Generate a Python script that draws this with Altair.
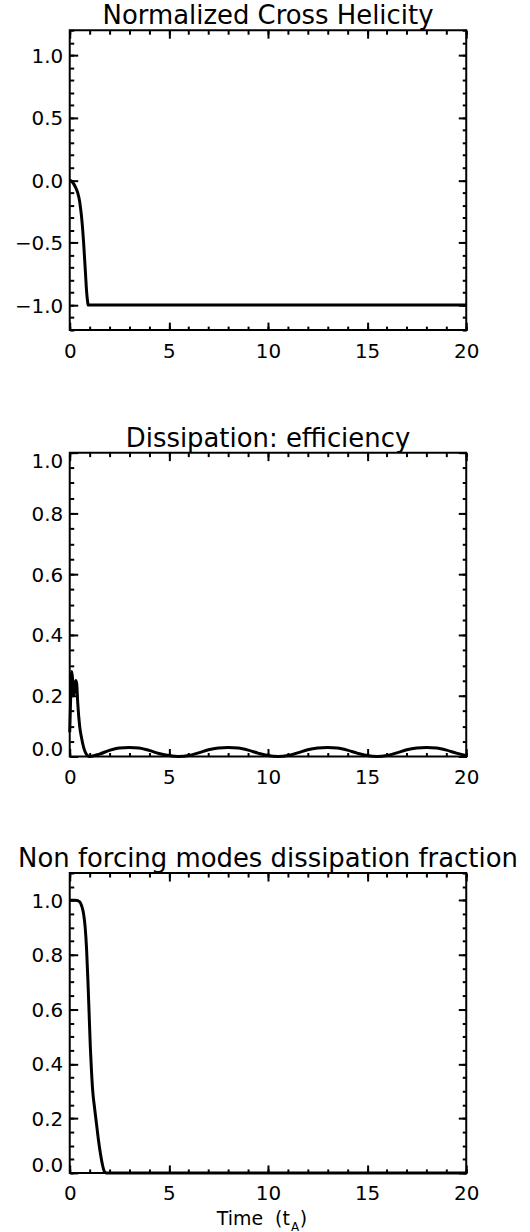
import altair as alt
import pandas as pd

FONT = "DejaVu Sans"

# ---- Panel 1: Normalized Cross Helicity ----
t1 = [0.0, 0.1, 0.2, 0.3, 0.4, 0.5, 0.55, 0.6, 0.65, 0.7, 0.75, 0.8, 0.85, 0.9, 0.93, 1.0, 20.0]
h1 = [0.0, -0.01, -0.03, -0.06, -0.1, -0.17, -0.23, -0.3, -0.39, -0.5, -0.63, -0.76, -0.89, -0.97, -1.0, -1.0, -1.0]

# ---- Panel 2: Dissipation: efficiency ----
t2 = [0.0, 0.05, 0.1, 0.15, 0.2, 0.25, 0.3, 0.35, 0.4, 0.5, 0.6, 0.7, 0.8, 0.9, 1.0,
      1.5, 2.0, 2.5, 3.0, 3.5, 4.0, 4.5, 5.0, 5.5,
      6.0, 6.5, 7.0, 7.5, 8.0, 8.5, 9.0, 9.5, 10.0, 10.5,
      11.0, 11.5, 12.0, 12.5, 13.0, 13.5, 14.0, 14.5, 15.0, 15.5,
      16.0, 16.5, 17.0, 17.5, 18.0, 18.5, 19.0, 19.5, 20.0]
e2 = [0.08, 0.2, 0.28, 0.25, 0.2, 0.22, 0.25, 0.24, 0.18, 0.1, 0.06, 0.03, 0.012, 0.003, 0.0,
      0.008, 0.02, 0.028, 0.03, 0.028, 0.02, 0.01, 0.003, 0.0,
      0.003, 0.012, 0.022, 0.028, 0.03, 0.028, 0.021, 0.011, 0.003, 0.0,
      0.003, 0.012, 0.022, 0.028, 0.03, 0.028, 0.021, 0.011, 0.003, 0.0,
      0.003, 0.012, 0.022, 0.028, 0.03, 0.028, 0.021, 0.011, 0.003]

# ---- Panel 3: Non forcing modes dissipation fraction ----
t3 = [0.0, 0.3, 0.5, 0.6, 0.7, 0.78, 0.85, 0.92, 0.98, 1.04, 1.1, 1.16, 1.25, 1.35, 1.45, 1.55, 1.65, 1.75, 1.85, 20.0]
f3 = [1.0, 1.0, 0.995, 0.98, 0.95, 0.9, 0.82, 0.7, 0.58, 0.46, 0.37, 0.3, 0.24, 0.18, 0.12, 0.07, 0.03, 0.005, 0.0, 0.0]

# ---- tick values ----
x_major = [0, 5, 10, 15, 20]
x_minor = list(range(0, 21))
y1_major = [-1.0, -0.5, 0.0, 0.5, 1.0]
y1_minor = [-1.2, -1.1, -1.0, -0.9, -0.8, -0.7, -0.6, -0.5, -0.4, -0.3, -0.2, -0.1, 0.0,
            0.1, 0.2, 0.3, 0.4, 0.5, 0.6, 0.7, 0.8, 0.9, 1.0, 1.1, 1.2]
y2_major = [0.0, 0.2, 0.4, 0.6, 0.8, 1.0]
y2_minor = [0.0, 0.05, 0.1, 0.15, 0.2, 0.25, 0.3, 0.35, 0.4, 0.45, 0.5, 0.55, 0.6, 0.65,
            0.7, 0.75, 0.8, 0.85, 0.9, 0.95, 1.0]
y3_major = [0.0, 0.2, 0.4, 0.6, 0.8, 1.0]
y3_minor = y2_minor + [1.05, 1.1]

titles = ["Normalized Cross Helicity", "Dissipation: efficiency",
          "Non forcing modes dissipation fraction"]

W = 398


def panel(t, v, ydom, ymaj, ymin, title, H, extra=None):
    df = pd.DataFrame({"t": t, "v": v})
    xs = alt.Scale(domain=[0, 20], nice=False, zero=False)
    ys = alt.Scale(domain=ydom, nice=False, zero=False)
    base = alt.Chart(df)
    line = base.mark_line(color="black", strokeWidth=3, interpolate="monotone").encode(
        x=alt.X("t:Q", scale=xs, axis=alt.Axis(
            values=x_major, format="d", ticks=False, domain=False, grid=False,
            labelPadding=11, labelFontSize=20, labelFont=FONT, labelColor="black",
            labelFlush=False, labelOverlap=False, title=None, minExtent=0)),
        y=alt.Y("v:Q", scale=ys, axis=alt.Axis(
            values=ymaj, format=".1f", ticks=False, domain=False, grid=False,
            labelPadding=7, labelFontSize=20, labelFont=FONT, labelColor="black",
            labelFlush=True, labelFlushOffset=2, labelOffset=1,
            labelOverlap=False, title=None, minExtent=0)),
    )

    def ghost(xo, yo, xv, yv, size):
        return base.mark_line(opacity=0).encode(
            x=alt.X("t:Q", scale=xs, axis=alt.Axis(
                orient=xo, offset=-H, values=xv, labels=False, domain=False, grid=False,
                ticks=True, tickSize=size, tickWidth=2, tickColor="black", title=None,
                minExtent=0, maxExtent=0)),
            y=alt.Y("v:Q", scale=ys, axis=alt.Axis(
                orient=yo, offset=-W, values=yv, labels=False, domain=False, grid=False,
                ticks=True, tickSize=size, tickWidth=2, tickColor="black", title=None,
                minExtent=0, maxExtent=0)),
        )

    layers = [
        line,
        ghost("top", "right", x_major, ymaj, 8),
        ghost("bottom", "left", x_major, ymaj, 8),
        ghost("top", "right", x_minor, ymin, 4),
        ghost("bottom", "left", x_minor, ymin, 4),
    ]
    if extra is not None:
        layers += extra
    return alt.layer(*layers).resolve_scale(
        x="independent", y="independent"
    ).resolve_axis(x="independent", y="independent").properties(
        width=W, height=H,
        title=alt.TitleParams(text=title, fontSize=26, font=FONT, fontWeight="normal",
                              color="black", anchor="middle", frame="group",
                              offset=-21, baseline="alphabetic"),
    )


# x-axis title "Time (t_A)" built from text pieces
xt_main = ["Time\u00a0 (t"]
xt_sub = ["A"]
xt_close = [")"]
H3 = 301
xtitle = [
    alt.Chart(pd.DataFrame({"s": xt_main})).mark_text(
        font=FONT, fontSize=19, align="right", baseline="alphabetic", color="black"
    ).encode(text="s:N", x=alt.value(221), y=alt.value(H3 + 52)),
    alt.Chart(pd.DataFrame({"s": xt_sub})).mark_text(
        font=FONT, fontSize=12, align="left", baseline="alphabetic", color="black"
    ).encode(text="s:N", x=alt.value(222), y=alt.value(H3 + 58)),
    alt.Chart(pd.DataFrame({"s": xt_close})).mark_text(
        font=FONT, fontSize=19, align="left", baseline="alphabetic", color="black"
    ).encode(text="s:N", x=alt.value(231), y=alt.value(H3 + 52)),
]

p1 = panel(t1, h1, [-1.2, 1.2], y1_major, y1_minor, titles[0], 301)
p2 = panel(t2, e2, [0.0, 1.0], y2_major, y2_minor, titles[1], 305)
p3 = panel(t3, f3, [0.0, 1.1], y3_major, y3_minor, titles[2], H3, extra=xtitle)

top_pair = alt.vconcat(p1, p2, spacing=63)
chart = alt.vconcat(top_pair, p3, spacing=57).properties(
    padding={"left": 13, "top": 0, "right": 10, "bottom": 10},
    background="white",
).configure_view(stroke="black", strokeWidth=2)

chart.save("out.html", embed_options={"renderer": "svg", "actions": False})
